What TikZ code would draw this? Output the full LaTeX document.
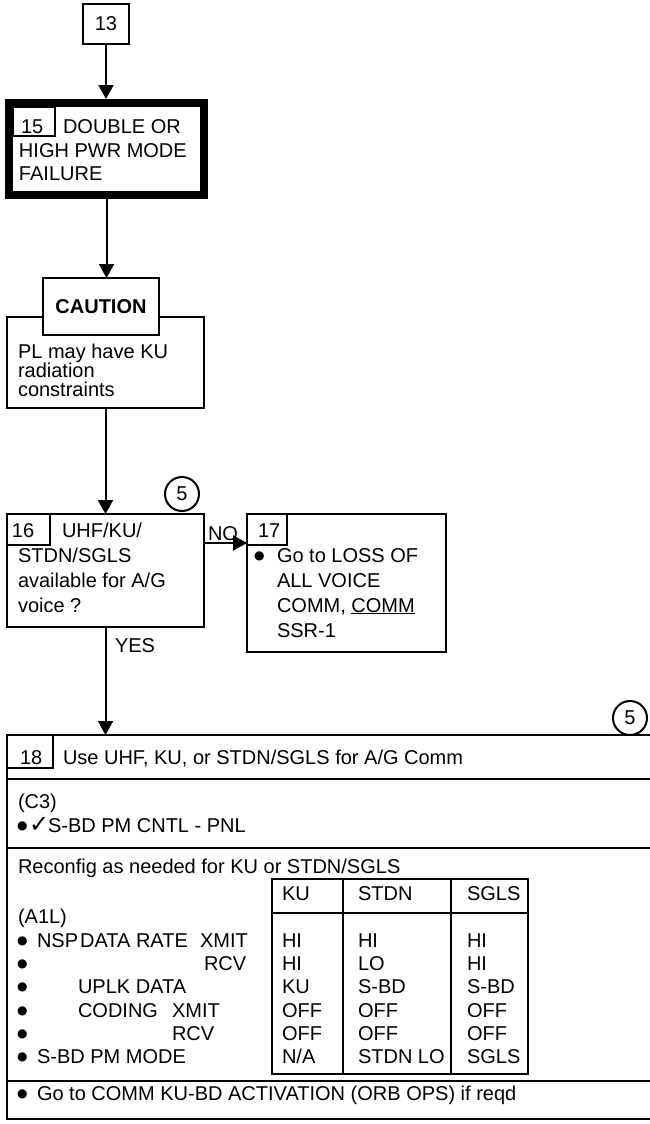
\documentclass[tikz,border=0pt]{standalone}
\usepackage{fontspec}
\setmainfont{Liberation Sans}
\newfontfamily\symfont{DejaVu Sans}
\usetikzlibrary{arrows.meta}
\newcommand\bul{\raisebox{2.5pt}{\fontsize{12}{12}\symfont ●}}
\begin{document}
\begin{tikzpicture}[x=1pt,y=-1pt,
  frame/.style={draw, line width=2pt, rectangle, inner sep=0pt, outer sep=0pt, font=\fontsize{20}{23}\selectfont},
  txt/.style={anchor=base west, inner sep=0pt, outer sep=0pt, font=\fontsize{20}{23}\selectfont},
  txtr/.style={txt, anchor=base east},
  arr/.style={line width=2pt, -{Triangle[width=15pt,length=14pt]}},
  circ/.style={draw, circle, line width=2pt, minimum size=34pt, inner sep=0pt, font=\fontsize{20}{23}\selectfont},
  rule/.style={line width=2pt}
]
\useasboundingbox (0,0) rectangle (650,1124);

% ---- box 13
\node[frame, minimum width=46pt, minimum height=40pt] (n13) at (106,24) {13};

% ---- box 15
\node[frame, line width=8pt, outer sep=4pt, minimum width=195pt, minimum height=92pt] (n15) at (106.5,149) {};
\node[frame, line width=1.5pt, minimum width=42pt, minimum height=29pt] (tag15) at (34,121.5) {};
\node[txt] (t15n) at (21,133) {15};
\node[txt] (t15a) at (63,133) {DOUBLE OR};
\node[txt] (t15b) at (19,157) {HIGH PWR MODE};
\node[txt] (t15c) at (19,180) {FAILURE};

% ---- caution
\node[frame, minimum width=197pt, minimum height=91pt] (cauB) at (105.5,362.5) {};
\node[frame, line width=2.5pt, fill=white, minimum width=116pt, minimum height=57pt, font=\fontsize{20}{23}\selectfont\bfseries] (cauH) at (101,306.5) {CAUTION};
\node[txt] (tca) at (18,358) {PL may have KU};
\node[txt] (tcb) at (18,377) {radiation};
\node[txt] (tcc) at (18,396) {constraints};

% ---- box 16
\node[frame, minimum width=197pt, minimum height=113pt] (n16) at (105.5,570.5) {};
\node[frame, minimum width=43pt, minimum height=31pt] (tag16) at (28.5,529.5) {};
\node[txt] (t16n) at (12,537) {16};
\node[txt] (t16a) at (62,537) {UHF/KU/};
\node[txt] (t16b) at (18,562) {STDN/SGLS};
\node[txt] (t16c) at (18,587) {available for A/G};
\node[txt] (t16d) at (18,612) {voice ?};
\node[circ] (c5a) at (182,494) {5};

% ---- box 17
\node[frame, minimum width=199pt, minimum height=138pt] (n17) at (346.5,583) {};
\node[frame, minimum width=40pt, minimum height=31pt] (tag17) at (267,529.5) {};
\node[txt] (t17n) at (258,537) {17};
\node[txt] (b17) at (254,562) {\bul};
\node[txt] (t17a) at (277,562) {Go to LOSS OF};
\node[txt] (t17b) at (277,587) {ALL VOICE};
\node[txt] (t17c) at (277,612) {COMM, \underline{COMM}};
\node[txt] (t17d) at (277,637) {SSR-1};

% ---- labels
\node[txt] (lno) at (208,540) {NO};
\node[txt] (lyes) at (115,652) {YES};

% ---- box 18
\node[frame, minimum width=647pt, minimum height=384pt] (n18) at (330.5,927) {};
\node[frame, minimum width=46pt, minimum height=33pt] (tag18) at (30,751.5) {};
\node[circ] (c5b) at (630,718) {5};
\node[txt] (t18n) at (20,764) {18};
\node[txt] (t18a) at (63,764) {Use UHF, KU, or STDN/SGLS for A/G Comm};
\draw[rule] (7,779) -- (654,779);
\node[txt] (tc3) at (18,808) {(C3)};
\node[txt] (bc3) at (17,832) {\bul};
\node[txt, font=\fontsize{24}{24}\symfont] (chk) at (29,832) {✓};
\node[txt] (tsbd) at (48,832) {S-BD PM CNTL - PNL};
\draw[rule] (7,848) -- (654,848);
\node[txt] (trec) at (18,873) {Reconfig as needed for KU or STDN/SGLS};
\node[txt] (ta1l) at (18,923) {(A1L)};

% left column
\node[txt] (b1) at (17,947) {\bul};
\node[txt] (r1) at (37,947) {NSP\hspace{2pt}DATA RATE};
\node[txt] (r1x) at (200,947) {XMIT};
\node[txt] (b2) at (17,970) {\bul};
\node[txt] (r2x) at (204,970) {RCV};
\node[txt] (b3) at (17,993) {\bul};
\node[txt] (r3) at (78,993) {UPLK DATA};
\node[txt] (b4) at (17,1017) {\bul};
\node[txt] (r4) at (78,1017) {CODING};
\node[txt] (r4x) at (172,1017) {XMIT};
\node[txt] (b5) at (17,1040) {\bul};
\node[txt] (r5x) at (172,1040) {RCV};
\node[txt] (b6) at (17,1063) {\bul};
\node[txt] (r6) at (37,1063) {S-BD PM MODE};

% table
\node[frame, minimum width=256pt, minimum height=195pt] (tbl) at (400,976.5) {};
\draw[rule] (343,879) -- (343,1074);
\draw[rule] (451,879) -- (451,1074);
\draw[rule] (272,913) -- (528,913);
\node[txt] (hku) at (282,900) {KU};
\node[txt] (hst) at (358,900) {STDN};
\node[txt] (hsg) at (467,900) {SGLS};
\node[txt] (k1) at (282,947) {HI};
\node[txt] (k2) at (282,970) {HI};
\node[txt] (k3) at (282,993) {KU};
\node[txt] (k4) at (282,1017) {OFF};
\node[txt] (k5) at (282,1040) {OFF};
\node[txt] (k6) at (282,1063) {N/A};
\node[txt] (s1) at (358,947) {HI};
\node[txt] (s2) at (358,970) {LO};
\node[txt] (s3) at (358,993) {S-BD};
\node[txt] (s4) at (358,1017) {OFF};
\node[txt] (s5) at (358,1040) {OFF};
\node[txt] (s6) at (358,1063) {STDN LO};
\node[txt] (g1) at (467,947) {HI};
\node[txt] (g2) at (467,970) {HI};
\node[txt] (g3) at (467,993) {S-BD};
\node[txt] (g4) at (467,1017) {OFF};
\node[txt] (g5) at (467,1040) {OFF};
\node[txt] (g6) at (467,1063) {SGLS};

\draw[rule] (7,1081) -- (654,1081);
\node[txt] (bgo) at (17,1100) {\bul};
\node[txt] (tgo) at (37,1100) {Go to COMM KU-BD ACTIVATION (ORB OPS) if reqd};

% ---- connectors
\draw[arr] (n13.south) -- (n13.south |- n15.north);
\draw[arr] (n15.south) -- (n15.south |- cauH.north);
\draw[arr] (cauB.south) -- (cauB.south |- n16.north);
\draw[arr] ([yshift=-29pt]n16.north east) -- ([yshift=-29pt]n17.north west);
\draw[arr] (n16.south) -- (n16.south |- n18.north);
\end{tikzpicture}
\end{document}
